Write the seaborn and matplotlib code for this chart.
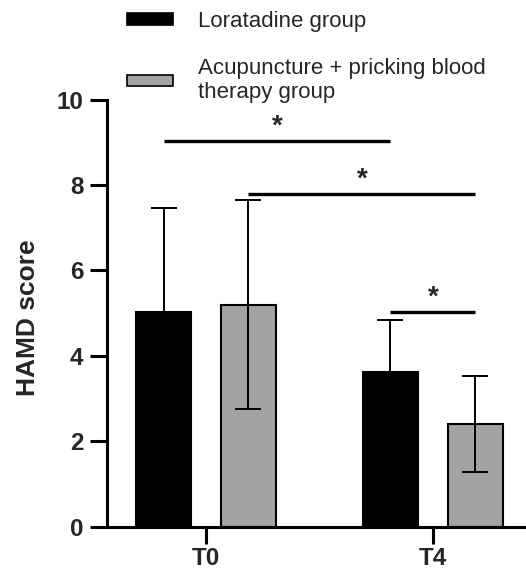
import pandas as pd
import matplotlib
matplotlib.use("Agg")
import matplotlib.pyplot as plt
import seaborn as sns
from matplotlib.patches import Patch

# données
temps = ["T0", "T4"]
groupes = ["Loratadine group", "Acupuncture + pricking blood\ntherapy group"]
moy_loratadine = [5.03, 3.63]
sd_loratadine = [2.43, 1.22]
moy_acupuncture = [5.20, 2.40]
sd_acupuncture = [2.44, 1.12]
ticks_y = [0, 2, 4, 6, 8, 10]

# comparaisons significatives : (temps, groupe) -> (temps, groupe), hauteur
comparaisons = [
    ((0, 0), (1, 0), 9.03),
    ((0, 1), (1, 1), 7.79),
    ((1, 0), (1, 1), 5.02),
]

couleurs = ["#000000", "#a2a2a6"]

df = pd.DataFrame({
    "temps": temps * 2,
    "groupe": [groupes[0]] * 2 + [groupes[1]] * 2,
    "score": moy_loratadine + moy_acupuncture,
    "sd": sd_loratadine + sd_acupuncture,
})

sns.set_style("ticks")
plt.rcParams["font.family"] = ["Liberation Sans", "DejaVu Sans"]

fig = plt.figure(figsize=(5.26, 5.71), dpi=100)
ax = fig.add_axes([107 / 526, 44.3 / 571, 419 / 526, 427.1 / 571])

sns.barplot(data=df, x="temps", y="score", hue="groupe", palette=couleurs,
            width=0.748, gap=0.345, edgecolor="black", linewidth=1.5,
            errorbar=None, legend=False, ax=ax)

# centres des barres (seaborn dessine groupe par groupe)
centres = {}
for k, p in enumerate(ax.patches[:4]):
    g, t = divmod(k, 2)
    centres[(t, g)] = p.get_x() + p.get_width() / 2

for k in range(4):
    g, t = divmod(k, 2)
    ax.errorbar(centres[(t, g)], df["score"][k], yerr=df["sd"][k], color="black",
                elinewidth=1.4, capsize=9.7, capthick=1.4, zorder=5)

for a, b, h in comparaisons:
    x1, x2 = centres[a], centres[b]
    ax.plot([x1, x2], [h, h], color="black", lw=2.4, solid_capstyle="butt", zorder=5)
    ax.text((x1 + x2) / 2, h + 0.17, "*", ha="center", va="baseline",
            fontsize=20, fontweight="bold")

ax.set_ylim(0, 10)
ax.set_xlim(-0.436, 1.41)
ax.set_yticks(ticks_y)
ax.set_xlabel("")
ax.set_ylabel("HAMD score", fontsize=19, fontweight="bold")
ax.yaxis.set_label_coords(-0.16, 0.49)
ax.tick_params(length=12, width=2.2, labelsize=17.5, pad=5, color="black")
ax.tick_params(axis="x", pad=2.5)
for lab in ax.get_xticklabels() + ax.get_yticklabels():
    lab.set_fontweight("bold")
sns.despine(ax=ax)
for s in ["left", "bottom"]:
    ax.spines[s].set_linewidth(2.2)
    ax.spines[s].set_color("black")

handles = [Patch(facecolor=c, edgecolor="black", linewidth=1.2) for c in couleurs]
fig.legend(handles, groupes, loc="upper left", bbox_to_anchor=(127 / 526, 0.981),
           frameon=False, fontsize=16, handlelength=2.06, handleheight=0.41,
           handletextpad=1.14, labelspacing=1.18, borderpad=0, borderaxespad=0)

plt.savefig("out.png", dpi=100)
